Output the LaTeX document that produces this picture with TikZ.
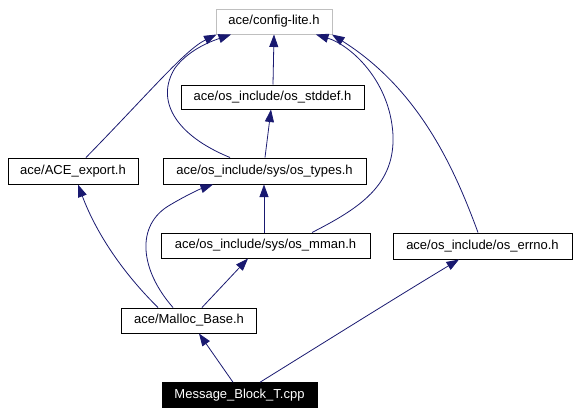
\documentclass[tikz,border=0pt]{standalone}
\usepackage{fontspec}
\setmainfont{Liberation Sans}
\usetikzlibrary{arrows.meta}
\definecolor{edgeblue}{HTML}{191970}
\definecolor{boxgray}{HTML}{BFBFBF}
\begin{document}
\begin{tikzpicture}[x=1pt,y=-1pt,
  hdr/.style={draw=black,line width=1pt,inner sep=0pt,minimum height=25pt,font=\fontsize{13}{15}\selectfont},
  dep/.style={draw=edgeblue,line width=0.8pt,-{Triangle[length=12.5pt,width=9pt]}}]
\useasboundingbox (0,0) rectangle (579,415);
\node[hdr,draw=boxgray,minimum width=116pt] (cfg) at (274,21.5) {ace/config-lite.h};
\node[hdr,minimum width=183pt,minimum height=24pt] (stddef) at (272.5,97) {ace/os\_include/os\_stddef.h};
\node[hdr,minimum width=130pt,minimum height=26pt] (aceexp) at (73,171) {ace/ACE\_export.h};
\node[hdr,minimum width=203pt,minimum height=26pt] (types) at (264.5,171) {ace/os\_include/sys/os\_types.h};
\node[hdr,minimum width=209pt] (mman) at (265.5,245.5) {ace/os\_include/sys/os\_mman.h};
\node[hdr,minimum width=179pt,minimum height=26pt] (errno) at (482.5,246) {ace/os\_include/os\_errno.h};
\node[hdr,minimum width=135pt] (malloc) at (189,320.5) {ace/Malloc\_Base.h};
\node[hdr,fill=black,text=white,minimum width=155pt,minimum height=24.5pt] (msg) at (239.5,395) {Message\_Block\_T.cpp};
\draw[dep] ([xshift=0.5pt]stddef.north) -- (cfg.south);
\draw[dep] ([xshift=0.5pt]types.north) -- ([xshift=-1.5pt]stddef.south);
\draw[dep] ([xshift=-34.5pt]types.north) .. controls (175,135) and (155,100) .. (175,68) .. controls (190,48) and (215,40) .. ([xshift=-43pt]cfg.south);
\draw[dep] ([xshift=13pt]aceexp.north) .. controls (150,92) and (185,50) .. ([xshift=1pt]cfg.south west);
\draw[dep] ([xshift=46.5pt]mman.north) .. controls (360,208) and (395,185) .. (393,135) .. controls (390,80) and (350,45) .. ([xshift=42pt]cfg.south);
\draw[dep] ([xshift=-4.5pt]errno.north) .. controls (455,170) and (420,90) .. ([xshift=-0.5pt]cfg.south east);
\draw[dep] ([xshift=-1.5pt]mman.north) -- ([xshift=-0.5pt]types.south);
\draw[dep] ([xshift=13pt]malloc.north) -- ([xshift=-17.5pt]mman.south);
\draw[dep] ([xshift=-16pt]malloc.north) .. controls (140,270) and (135,225) .. (170,205) .. controls (185,196) and (200,189) .. ([xshift=-51.5pt]types.south);
\draw[dep] ([xshift=-31pt]malloc.north) .. controls (120,270) and (95,230) .. ([xshift=5pt]aceexp.south);
\draw[dep] ([xshift=-6.5pt]msg.north) -- ([xshift=10pt]malloc.south);
\draw[dep] ([xshift=20.5pt]msg.north) .. controls (320,345) and (400,295) .. ([xshift=-23.5pt]errno.south);
\end{tikzpicture}
\end{document}
